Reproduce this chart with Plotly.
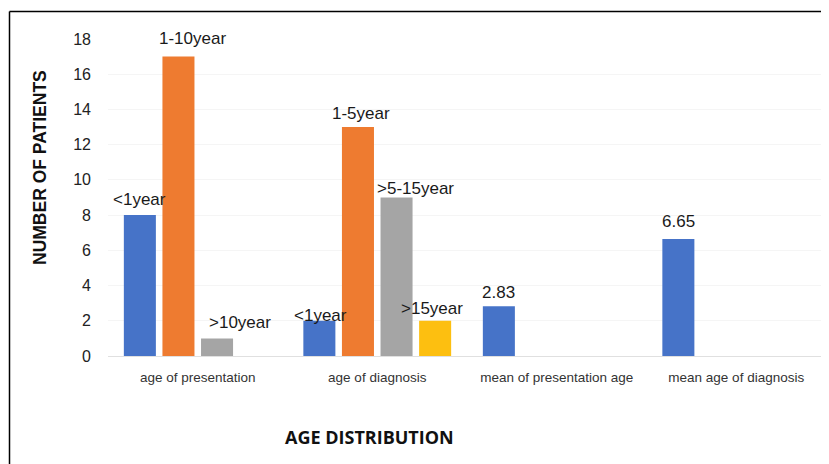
import plotly.graph_objects as go

categories = ["age of presentation", "age of diagnosis", "mean of presentation age", "mean age of diagnosis"]
s1_values = [8, 2, 2.83, 6.65]
s1_labels = ["<1year", "<1year", "2.83", "6.65"]
s2_values = [17, 13, None, None]
s2_labels = ["1-10year", "1-5year", "", ""]
s3_values = [1, 9, None, None]
s3_labels = [">10year", ">5-15year", "", ""]
s4_values = [None, 2, None, None]
s4_labels = ["", ">15year", "", ""]
y_ticks = [0, 2, 4, 6, 8, 10, 12, 14, 16, 18]

# label nudges (pixels) used in the original chart: (dx, baseline above bar top)
s1_nudge = [(0, 9), (1, -1), (0, 7), (0, 11)]
s2_nudge = [(14, 12), (3, 7), (0, 0), (0, 0)]
s3_nudge = [(23, 9), (19, 3), (0, 0), (0, 0)]
s4_nudge = [(0, 0), (-3, 6), (0, 0), (0, 0)]

colors = ["#4673C8", "#EE7B30", "#A5A5A5", "#FDBF10"]
font_main = "Liberation Sans Narrow, Arial Narrow, Liberation Sans, Arial"

# page has an 8px body margin; everything below is expressed relative to the figure origin
OFF = 8
L, T, PW, PH = 108 - OFF, 39 - OFF, 718, 317
BARGAP, GROUPGAP = 0.14, 0.17
NSER = 4
LABEL_SIZE = 17

def px(x):
    return (x - OFF - L) / PW

def py(y):
    return (T + PH - (y - OFF)) / PH

fig = go.Figure()
annotations = []
series = [(s1_values, s1_labels, s1_nudge), (s2_values, s2_labels, s2_nudge),
          (s3_values, s3_labels, s3_nudge), (s4_values, s4_labels, s4_nudge)]
slot = (1 - BARGAP) / NSER
for j, (vals, labs, nudge) in enumerate(series):
    fig.add_trace(go.Bar(
        x=categories, y=vals,
        marker=dict(color=colors[j], line=dict(width=0)),
        showlegend=False, hoverinfo="x+y",
    ))
    for i, (v, lab, (dx, dy)) in enumerate(zip(vals, labs, nudge)):
        if v is None or not lab:
            continue
        annotations.append(dict(
            text=lab, xref="x", yref="y", x=i + (j - (NSER - 1) / 2) * slot, y=v,
            xanchor="center", yanchor="bottom", showarrow=False,
            xshift=dx, yshift=dy - 5,
            font=dict(family=font_main, size=LABEL_SIZE, color="#1a1a1a"),
        ))

annotations += [
    dict(text="<b>NUMBER OF PATIENTS</b>", xref="paper", yref="paper",
         x=px(40), y=py(168), textangle=-90, showarrow=False,
         font=dict(family="Liberation Sans Narrow, Liberation Sans, Arial", size=17.5, color="#111111"),
         xanchor="center", yanchor="middle"),
    dict(text="<b>AGE DISTRIBUTION</b>", xref="paper", yref="paper",
         x=px(369), y=py(437), showarrow=False,
         font=dict(family="Open Sans, Liberation Sans, Arial", size=18, color="#111111"),
         xanchor="center", yanchor="middle"),
]

fig.update_layout(
    width=829 - OFF, height=464 - OFF,
    margin=dict(l=L, r=829 - OFF - L - PW, t=T, b=464 - OFF - T - PH),
    paper_bgcolor="white", plot_bgcolor="white",
    barmode="group", bargap=BARGAP, bargroupgap=GROUPGAP,
    xaxis=dict(
        showgrid=False, showline=True, linecolor="#e0e0e0", linewidth=1,
        tickfont=dict(family=font_main, size=13.5, color="#333333"),
        ticks="", ticklabelstandoff=9,
    ),
    yaxis=dict(
        range=[0, 18], tickvals=y_ticks, showgrid=True, gridcolor="#f5f5f5",
        zeroline=False, showline=False,
        tickfont=dict(family=font_main, size=16, color="#222222"),
        ticks="", ticklabelstandoff=16,
    ),
    annotations=annotations,
    shapes=[
        dict(type="line", xref="paper", yref="paper",
             x0=px(9.5), x1=px(840), y0=py(11.5), y1=py(11.5),
             line=dict(color="black", width=1.5)),
        dict(type="line", xref="paper", yref="paper",
             x0=px(9.5), x1=px(9.5), y0=py(11.5), y1=py(480),
             line=dict(color="black", width=1.5)),
    ],
)

fig.write_html("out.html")
